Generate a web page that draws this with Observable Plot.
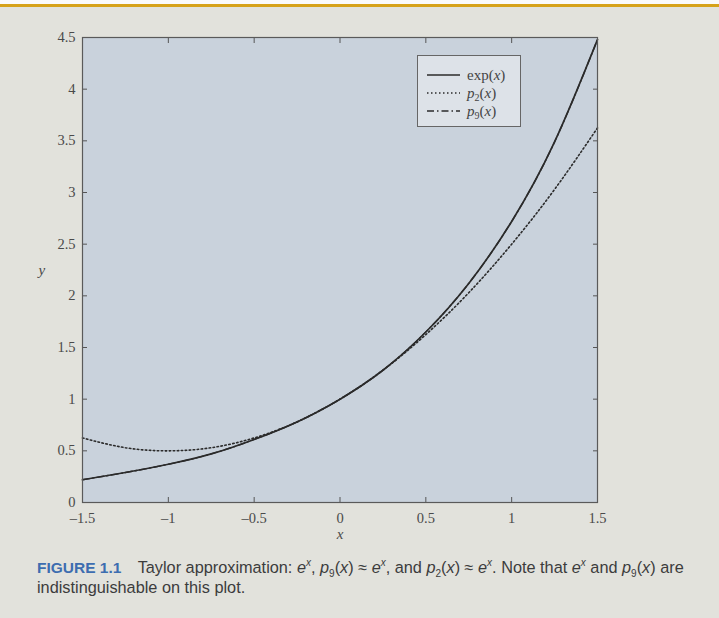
<!DOCTYPE html>
<html><head><meta charset="utf-8">
<script src="https://cdn.jsdelivr.net/npm/d3@7"></script>
<script src="https://cdn.jsdelivr.net/npm/@observablehq/plot@0.6"></script>
<style>
html,body{margin:0;padding:0;width:719px;height:618px;overflow:hidden;background:#e2e2dc;}
#topw{position:absolute;left:0;top:0;width:719px;height:4px;background:#fafafa;}
#gold{position:absolute;left:0;top:4px;width:719px;height:3px;background:#d6a21a;}
#chart{position:absolute;left:0;top:0;}
#legend{position:absolute;left:417px;top:55px;width:104px;height:72px;border:1px solid #666;background:#dde2e8;box-sizing:border-box;font-family:"Liberation Serif",serif;font-size:15px;color:#444;}
#legend .row{position:absolute;left:9px;height:16px;display:flex;align-items:center;white-space:nowrap;}
#legend .row span{margin-left:7px;line-height:16px;}
#legend sub{font-size:10px;vertical-align:baseline;position:relative;top:0.3em;line-height:0;}
.cap{position:absolute;left:37px;white-space:nowrap;font-family:"Liberation Sans",Arial,sans-serif;font-size:16.3px;line-height:18px;color:#3c3c3c;}
#cap1{top:558px;}
#cap2{top:578px;}
.cap b{color:#3d6db0;font-weight:bold;font-size:15.5px;margin-right:12px;}
.cap sup,.cap sub{font-size:10px;vertical-align:baseline;position:relative;line-height:0;}
.cap sup{top:-0.7em;}
.cap sub{top:0.35em;}
</style></head>
<body>
<div id="topw"></div><div id="gold"></div>
<div id="chart"></div>
<div id="legend"></div>
<div id="cap1" class="cap"><b>FIGURE 1.1</b> Taylor approximation: <i>e<sup>x</sup></i>, <i>p</i><sub>9</sub>(<i>x</i>) ≈ <i>e<sup>x</sup></i>, and <i>p</i><sub>2</sub>(<i>x</i>) ≈ <i>e<sup>x</sup></i>. Note that <i>e<sup>x</sup></i> and <i>p</i><sub>9</sub>(<i>x</i>) are</div>
<div id="cap2" class="cap">indistinguishable on this plot.</div>
<script>
const xs    = [-1.5,-1.25,-1,-0.75,-0.5,-0.25,0,0.25,0.5,0.75,1,1.25,1.5];
const expY  = [0.22,0.29,0.37,0.47,0.61,0.78,1.00,1.28,1.65,2.12,2.72,3.49,4.48];
const p2Y   = [0.625,0.53,0.50,0.53,0.625,0.78,1.00,1.28,1.625,2.03,2.50,3.03,3.625];
const p9Y   = [0.22,0.29,0.37,0.47,0.61,0.78,1.00,1.28,1.65,2.12,2.72,3.49,4.48];
const xTicks = [-1.5,-1,-0.5,0,0.5,1,1.5];
const yTicks = [0,0.5,1,1.5,2,2.5,3,3.5,4,4.5];
const seriesNames = ["exp(x)","p2(x)","p9(x)"];

const rows = (ys) => xs.map((x,i)=>({x, y: ys[i]}));
const fmt = d => String(d).replace("-","\u2013");
const tickFont = {fontFamily:"Liberation Serif, serif", fontSize: 14.5, fill:"#4a4a4a"};
const lineColor = "#2b2b2b";

const chart = Plot.plot({
  width: 719, height: 550,
  marginLeft: 82, marginRight: 122, marginTop: 37, marginBottom: 48,
  style: {background:"transparent", fontFamily:"Liberation Serif, serif", fontSize:"15px", color:"#4a4a4a"},
  x: {domain:[-1.5,1.5]},
  y: {domain:[0,4.5]},
  marks: [
    Plot.frame({fill:"#c9d2dc"}),
    Plot.line(rows(expY), {x:"x", y:"y", stroke:lineColor, strokeWidth:1.7, curve:"natural"}),
    Plot.line(rows(p2Y), {x:"x", y:"y", stroke:lineColor, strokeWidth:1.6, strokeDasharray:"1.5,2.5", curve:"natural"}),
    Plot.line(rows(p9Y), {x:"x", y:"y", stroke:lineColor, strokeWidth:1.4, strokeDasharray:"7,3,1.5,3", curve:"natural"}),
    // inward ticks
    Plot.axisX({anchor:"bottom", ticks:xTicks, tickSize:-5, tickFormat:()=>"", label:null, stroke:"#555"}),
    Plot.axisX({anchor:"top", ticks:xTicks, tickSize:-5, tickFormat:()=>"", label:null, stroke:"#555"}),
    Plot.axisY({anchor:"left", ticks:yTicks, tickSize:-5, tickFormat:()=>"", label:null, stroke:"#555"}),
    Plot.axisY({anchor:"right", ticks:yTicks, tickSize:-5, tickFormat:()=>"", label:null, stroke:"#555"}),
    // labels
    Plot.axisX({anchor:"bottom", ticks:xTicks, tickSize:0, tickPadding:10, tickFormat:fmt, label:null, ...tickFont}),
    Plot.axisY({anchor:"left", ticks:yTicks, tickSize:0, tickPadding:7, tickFormat:fmt, label:null, ...tickFont}),
    Plot.frame({stroke:"#5a5a5a", strokeWidth:1.2}),
    Plot.text(["x"], {frameAnchor:"bottom", dy:36, fontStyle:"italic", fontFamily:"Liberation Serif, serif", fontSize:15, fill:"#4a4a4a"}),
    Plot.text(["y"], {frameAnchor:"left", dx:-44, fontStyle:"italic", fontFamily:"Liberation Serif, serif", fontSize:15, fill:"#4a4a4a"})
  ]
});
document.getElementById("chart").appendChild(chart);

// legend
const legend = document.getElementById("legend");
const dashes = ["", "1.5,2.5", "7,3,1.5,3"];
const labels = ['exp(<i>x</i>)', '<i>p</i><sub>2</sub>(<i>x</i>)', '<i>p</i><sub>9</sub>(<i>x</i>)'];
seriesNames.forEach((n,i)=>{
  const r = document.createElement("div");
  r.className = "row";
  r.style.top = (11 + i*18) + "px";
  r.innerHTML = `<svg width="33" height="6"><line x1="0" y1="3" x2="33" y2="3" stroke="${lineColor}" stroke-width="1.7" stroke-dasharray="${dashes[i]}"/></svg><span>${labels[i]}</span>`;
  legend.appendChild(r);
});
</script>
</body></html>
